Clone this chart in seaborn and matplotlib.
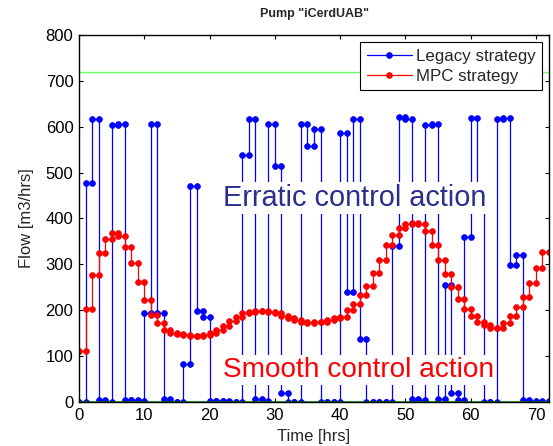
import numpy as np
import matplotlib
matplotlib.use("Agg")
import matplotlib.pyplot as plt
import seaborn as sns

# hourly flows [m3/hrs]
legacy_flow = [
    0, 477, 616, 5, 0, 604, 606, 5, 5, 2,
    194, 606, 193, 6, 0, 0, 83, 471, 198, 186,
    3, 3, 2, 1, 0, 538, 617, 7, 3, 605,
    515, 19, 0, 0, 607, 559, 595, 0, 0, 0,
    587, 240, 617, 137, 0, 0, 0, 0, 340, 621,
    617, 6, 4, 603, 606, 7, 255, 19, 4, 359,
    618, 450, 0, 0, 617, 618, 298, 321, 5, 2,
    0, 2,
]
mpc_flow = [
    111, 203, 276, 325, 355, 369, 361, 338, 304, 262,
    222, 189, 172, 158, 151, 148, 145, 144, 144, 146,
    150, 157, 166, 176, 186, 193, 197, 199, 199, 197,
    193, 187, 182, 178, 174, 173, 174, 175, 178, 182,
    186, 200, 214, 233, 253, 282, 310, 343, 365, 380,
    388, 390, 388, 373, 343, 309, 279, 250, 225, 203,
    188, 175, 167, 162, 161, 172, 187, 206, 229, 260,
    293, 327,
]
upper_limit = 720
lower_limit = 0

x_ticks = list(range(0, 80, 10))
y_ticks = list(range(0, 900, 100))


def stairs(values):
    """Turn hourly values into MATLAB-like stair vertices."""
    v = np.asarray(values, dtype=float)
    x = np.repeat(np.arange(len(v) + 1), 2)[1:-1]
    y = np.repeat(v, 2)
    return x, y


sns.set_style("ticks")
plt.rcParams["font.family"] = ["Liberation Sans", "DejaVu Sans"]

fig = plt.figure(figsize=(5.53, 4.46), dpi=100)
ax = fig.add_axes([0.1429, 0.0987, 0.8499, 0.8228])

# legacy strategy
lx, ly = stairs(legacy_flow)
sns.lineplot(x=lx, y=ly, ax=ax, estimator=None, sort=False,
             color="#0000ff", linewidth=0.9, marker="o", markersize=4.2,
             markeredgecolor="#0000ff", markeredgewidth=0.5,
             label="Legacy strategy", zorder=2)

# MPC strategy
mx, my = stairs(mpc_flow)
sns.lineplot(x=mx, y=my, ax=ax, estimator=None, sort=False,
             color="#ff0000", linewidth=0.9, marker="o", markersize=4.2,
             markeredgecolor="#ff0000", markeredgewidth=0.5,
             label="MPC strategy", zorder=2.1)

# flow limits
ax.axhline(upper_limit, color="#66ff66", linewidth=1.0, zorder=2.5)
ax.axhline(lower_limit, color="#007f00", linewidth=1.8, zorder=2.5)

ax.text(22, 444, "Erratic control action", fontsize=20.8, color="#2a2e8c",
        ha="left", va="center", zorder=4,
        bbox=dict(facecolor="white", edgecolor="none", pad=1.5))
ax.text(22, 70, "Smooth control action", fontsize=20.2, color="#ff0000",
        ha="left", va="center", zorder=4,
        bbox=dict(facecolor="white", edgecolor="none", pad=1.5))

ax.set_xlim(0, 72)
ax.set_ylim(0, 800)
ax.set_xticks(x_ticks)
ax.set_yticks(y_ticks)
ax.tick_params(direction="in", length=3, width=0.8, top=True, right=True,
               labelsize=12, colors="black", pad=4)
for sp in ax.spines.values():
    sp.set_visible(True)
    sp.set_color("black")
    sp.set_linewidth(1.0)

ax.set_xlabel("Time [hrs]", fontsize=12, labelpad=5)
ax.set_ylabel("Flow [m3/hrs]", fontsize=12, labelpad=8)
ax.set_title('Pump "iCerdUAB"', fontsize=9, fontweight="bold", pad=13)

leg = ax.legend(loc="upper right", fontsize=12.2, frameon=True, fancybox=False,
                framealpha=1, edgecolor="black", borderaxespad=0.4,
                borderpad=0.4, handlelength=2.7, handletextpad=0.2,
                labelspacing=0.3, numpoints=1)
leg.get_frame().set_linewidth(0.8)

fig.savefig("out.png", dpi=100)
